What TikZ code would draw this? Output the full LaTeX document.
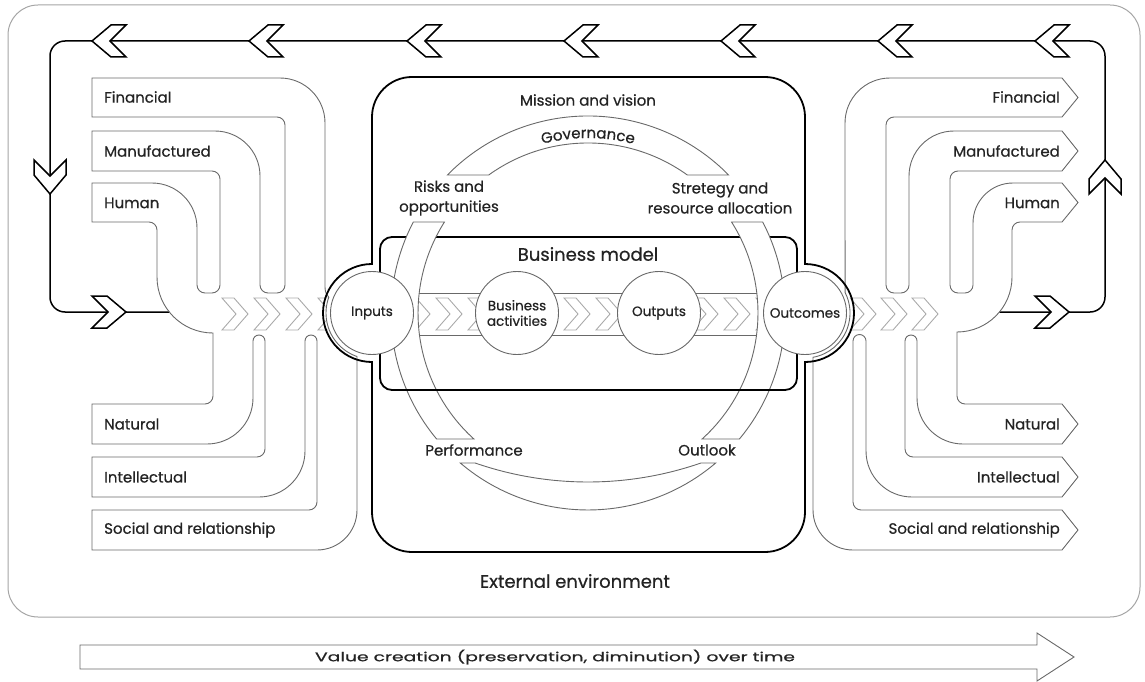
\documentclass[tikz,border=0pt]{standalone}
\usepackage{graphicx}
\usepackage{fontspec}
\setmainfont{Poppins}[FakeBold=0.6]
\usetikzlibrary{decorations.text}

\definecolor{pipegray}{RGB}{105,105,105}
\definecolor{chevgray}{RGB}{170,170,170}
\definecolor{envgray}{RGB}{165,165,165}
\definecolor{txtgray}{RGB}{35,35,35}

\begin{document}
\begin{tikzpicture}[x=1pt,y=-1pt,
	pipe/.style={draw=pipegray,line width=0.9pt},
	heavy/.style={draw=black,line width=1.8pt},
	ringpart/.style={draw=pipegray,line width=0.9pt,fill=white},
	bandchev/.style={draw=chevgray,line width=0.9pt,line join=miter},
	stagecircle/.style={circle,draw=pipegray,line width=0.9pt,fill=white,minimum size=83pt,inner sep=0pt,align=center,font=\fontsize{13.5}{15.5}\selectfont,text=txtgray},
	capital/.style={font=\fontsize{15}{17}\selectfont,text=txtgray,inner sep=0pt},
	cyclelabel/.style={font=\fontsize{15}{20}\selectfont,text=txtgray,align=center,inner sep=0pt},
	loopchev/.pic={\draw[heavy,line width=1.5pt,fill=white,line join=miter] (-17,-16) -- (-2,-16) -- (17,0) -- (-2,16) -- (-17,16) -- (-1,0) -- cycle;},
	]
	\useasboundingbox (0,0) rectangle (1145,682);
	
	%external environment
	\draw[draw=envgray,line width=1pt,rounded corners=30pt] (8,5) rectangle (1140,617);
	
	%feedback loop
	\draw[heavy,line width=1.5pt] (169.3,312) -- (65,312) arc (90:180:15) -- (50,56) arc (180:270:15) -- (1090,41) arc (270:360:15) -- (1105,297) arc (0:90:15) -- (999.4,312);
	\foreach \x in {109,266,424,581,738,895,1052}
		\pic[rotate=180] at (\x,41) {loopchev};
	\pic[rotate=-90] at (50,177) {loopchev};
	\pic[rotate=90] at (1105,177) {loopchev};
	\pic at (109,312) {loopchev};
	\pic at (1052,312) {loopchev};
	
	%chevrons outside
	\foreach \x in {222,254,286,318,850,881,912}
		\draw[bandchev] (\x,298) -- (\x+12,298) -- (\x+26,314) -- (\x+12,330) -- (\x,330) -- (\x+14,314) -- cycle;
	\fill[white] (372,313) circle (47);
	\fill[white] (805,313) circle (47);
	
	%capitals in
	\draw[pipe] (357,356.5) arc (109.03:200:46) .. controls (325,292) .. (325,283)
		-- (325,123) arc (0:-90:45) -- (92,78) -- (92,117) -- (277,117) arc (-90:0:8)
		-- (285,285) arc (0:90:8) -- (268,293) arc (90:180:8)
		-- (260,176) arc (0:-90:45) -- (92,131) -- (92,171) -- (212,171) arc (-90:0:8)
		-- (220,285) arc (0:90:8) -- (205,293) arc (90:180:8)
		-- (197,228) arc (0:-90:45) -- (92,183) -- (92,222) -- (149,222) arc (-90:0:8)
		-- (157,277) arc (180:90:56)
		-- (213,396) arc (0:90:8) -- (92,404) -- (92,444) -- (207,444) arc (90:0:46)
		-- (253,341) arc (180:360:6)
		-- (265,449) arc (0:90:8) -- (92,457) -- (92,497) -- (259,497) arc (90:0:46)
		-- (305,341) arc (180:360:6)
		-- (317,502) arc (0:90:8) -- (92,510) -- (92,550) -- (317,550) arc (90:0:40)
		-- cycle;
	
	%capitals out
	\draw[pipe] (813,357.3) arc (79.8:-27.2:45) -- (845,123) arc (180:270:45) -- (1062,78) -- (1078,97.5) -- (1062,117) -- (894,117) arc (270:180:8)
		-- (886,285) arc (180:90:8) -- (901,293) arc (90:0:8)
		-- (909,176) arc (180:270:45) -- (1062,131) -- (1078,151) -- (1062,171) -- (958,171) arc (270:180:8)
		-- (950,285) arc (180:90:8) -- (965,293) arc (90:0:8)
		-- (973,223) arc (180:270:40) -- (1062,183) -- (1078,202.5) -- (1062,222) -- (1020,222) arc (270:180:8)
		-- (1012,277) arc (0:90:55)
		-- (957,396) arc (180:90:8) -- (1062,404) -- (1078,424) -- (1062,444) -- (963,444) arc (90:180:46)
		-- (917,341) arc (0:-180:6)
		-- (905,449) arc (180:90:8) -- (1062,457) -- (1078,477) -- (1062,497) -- (912,497) arc (90:180:46)
		-- (866,341) arc (0:-180:6.5)
		-- (853,502) arc (180:90:8) -- (1062,510) -- (1078,530) -- (1062,550) -- (853,550) arc (90:180:40)
		-- cycle;
	
	%mission box and business model box
	\draw[heavy] (372,264) -- (372,117) arc (180:270:40) -- (765,77) arc (270:360:40) -- (805,264) arc (270:450:49)
		-- (805,512) arc (0:90:40) -- (412,552) arc (90:180:40) -- (372,362) arc (90:270:49) -- cycle;
	\draw[heavy,rounded corners=12pt] (380,237) rectangle (797,390);
	
	%band in business model
	\draw[pipe] (380,293) -- (797,293);
	\draw[pipe] (380,335) -- (797,335);
	\foreach \x in {404,436,...,756}
		\draw[bandchev] (\x,298) -- (\x+12,298) -- (\x+26,314) -- (\x+12,330) -- (\x,330) -- (\x+14,314) -- cycle;
	
	%ring
	\draw[ringpart] (447.4,175) arc (224.46:315.54:197) -- (687.3,175) arc (305.74:234.26:170) -- cycle;
	\draw[ringpart] (413.3,222) arc (207.51:140.23:197) -- (473.9,439) arc (132.17:212.36:170) -- cycle;
	\draw[ringpart] (762.7,222) arc (-27.51:39.77:197) -- (702.1,439) arc (47.83:-32.36:170) -- cycle;
	\draw[ringpart] (460.3,463) arc (130.4:49.6:197) -- (700.9,463) arc (70.9:109.1:345) -- cycle;
	\draw[heavy] (400,390) -- (777,390);
	\path[decorate,decoration={text along path,text align=center,
		text={|\fontsize{15}{17}\selectfont\color{txtgray}|Governance}}]
		(588,313) ++(240:175) arc (240:300:175);
	
	%circles
	\node[stagecircle] (inputs) at (372,313) {Inputs};
	\node[stagecircle] (activities) at (517,313) {Business\\activities};
	\node[stagecircle] (outputs) at (659,313) {Outputs};
	\node[stagecircle] (outcomes) at (805,313) {Outcomes};
	
	%labels in
	\node[capital,anchor=west] (finL) at (104,97) {Financial};
	\node[capital,anchor=west] (manL) at (104,151) {Manufactured};
	\node[capital,anchor=west] (humL) at (104,203) {Human};
	\node[capital,anchor=west] (natL) at (104,424) {Natural};
	\node[capital,anchor=west] (intL) at (104,477) {Intellectual};
	\node[capital,anchor=west] (socL) at (104,530) {Social and relationship};
	
	%labels out
	\node[capital,anchor=east] (finR) at (1060,97) {Financial};
	\node[capital,anchor=east] (manR) at (1060,151) {Manufactured};
	\node[capital,anchor=east] (humR) at (1060,203) {Human};
	\node[capital,anchor=east] (natR) at (1060,424) {Natural};
	\node[capital,anchor=east] (intR) at (1060,477) {Intellectual};
	\node[capital,anchor=east] (socR) at (1060,530) {Social and relationship};
	
	%labels center
	\node[cyclelabel] (mission) at (588,100) {Mission and vision};
	\node[cyclelabel] (risks) at (449,198) {Risks and\\opportunities};
	\node[cyclelabel] (strategy) at (720,198) {Stretegy and\\resource allocation};
	\node[cyclelabel,font=\fontsize{18}{20}\selectfont] (bmodel) at (588,254) {Business model};
	\node[cyclelabel] (performance) at (474,450) {Performance};
	\node[cyclelabel] (outlook) at (707,450) {Outlook};
	\node[cyclelabel,font=\fontsize{18}{20}\selectfont] (external) at (575,581) {External environment};
	
	%value creation arrow
	\draw[draw=pipegray,line width=0.9pt] (80,645) -- (1037,645) -- (1037,633) -- (1074,657) -- (1037,681) -- (1037,669) -- (80,669) -- cycle;
	\node[cyclelabel,font=\fontsize{12.5}{14}\selectfont] (value) at (555,657) {\scalebox{1.5}[1]{Value creation (preservation, diminution) over time}};
\end{tikzpicture}
\end{document}
